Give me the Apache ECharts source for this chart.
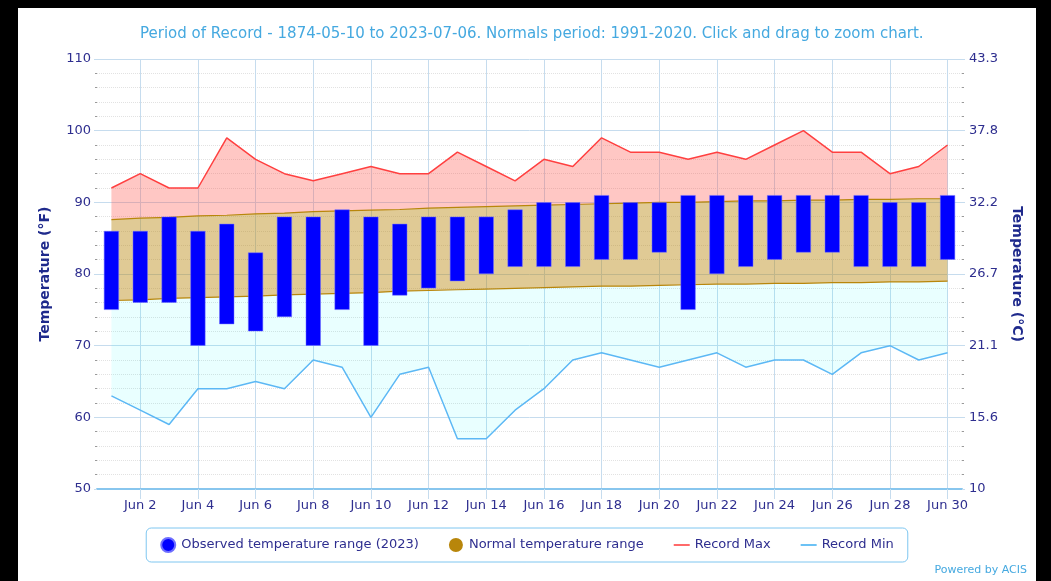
<!DOCTYPE html>
<html>
<head>
<meta charset="utf-8">
<title>Daily temperatures June 2023</title>
<script src="https://cdn.jsdelivr.net/npm/echarts@6/dist/echarts.min.js"></script>
<style>
  html, body { margin: 0; padding: 0; background: #000; }
  #chart {
    position: absolute;
    left: 18px;
    top: 8px;
    width: 1018px;
    height: 573px;
    background: #fff;
  }
</style>
</head>
<body>
<div id="chart"></div>
<script>
// June 2023, days of month
const days = [1, 2, 3, 4, 5, 6, 7, 8, 9, 10, 11, 12, 13, 14, 15,
  16, 17, 18, 19, 20, 21, 22, 23, 24, 25, 26, 27, 28, 29, 30];
const tickDays = [2, 4, 6, 8, 10, 12, 14, 16, 18, 20, 22, 24, 26, 28, 30];

// observed 2023 (°F)
const obsHigh = [86, 86, 88, 86, 87, 83, 88, 88, 89, 88, 87, 88, 88, 88, 89,
  90, 90, 91, 90, 90, 91, 91, 91, 91, 91, 91, 91, 90, 90, 91];
const obsLow = [75, 76, 76, 70, 73, 72, 74, 70, 75, 70, 77, 78, 79, 80, 81,
  81, 81, 82, 82, 83, 75, 80, 81, 82, 83, 83, 81, 81, 81, 82];

// normals 1991-2020 (°F)
const normHigh = [87.6, 87.8, 87.9, 88.1, 88.2, 88.4, 88.5, 88.7, 88.8, 88.9,
  89.0, 89.2, 89.3, 89.4, 89.5, 89.6, 89.7, 89.8, 89.9, 90.0,
  90.0, 90.1, 90.2, 90.2, 90.3, 90.3, 90.4, 90.4, 90.5, 90.5];
const normLow = [76.3, 76.4, 76.6, 76.7, 76.8, 76.9, 77.1, 77.2, 77.3, 77.4,
  77.6, 77.7, 77.8, 77.9, 78.0, 78.1, 78.2, 78.3, 78.3, 78.4,
  78.5, 78.6, 78.6, 78.7, 78.7, 78.8, 78.8, 78.9, 78.9, 79.0];

// records (°F)
const recMax = [92, 94, 92, 92, 99, 96, 94, 93, 94, 95, 94, 94, 97, 95, 93,
  96, 95, 99, 97, 97, 96, 97, 96, 98, 100, 97, 97, 94, 95, 98];
const recMin = [63, 61, 59, 64, 64, 65, 64, 68, 67, 60, 66, 67, 57, 57, 61,
  64, 68, 69, 68, 67, 68, 69, 67, 68, 68, 66, 69, 70, 68, 69];

const labelColor = "#2e2e8f";
const gridColor = "#c6dcee";
const lineIcon = "path://M0,0h16v2h-16z";

// value first, day second, so stacking happens on the temperature
function pairs(vals) {
  return days.map(function (d, i) { return [vals[i], d]; });
}
function diff(a, b) {
  return a.map(function (v, i) { return +(v - b[i]).toFixed(2); });
}
const enc = { x: 1, y: 0 };

const chart = echarts.init(document.getElementById("chart"));
chart.setOption({
  animation: false,
  textStyle: { fontFamily: "DejaVu Sans" },
  title: [
    {
      text: "Period of Record - 1874-05-10 to 2023-07-06. Normals period: 1991-2020. Click and drag to zoom chart.",
      left: 117,
      top: 14,
      textStyle: { fontSize: 15, fontWeight: "normal", color: "#45a9e0" }
    },
    {
      text: "Powered by ACIS",
      right: 4,
      bottom: 0,
      textStyle: { fontSize: 11, fontWeight: "normal", color: "#45a9e0" }
    }
  ],
  grid: { left: 79, right: 74, top: 51, bottom: 92 },
  legend: {
    left: "center",
    top: 520,
    padding: [9, 14],
    itemGap: 30,
    itemWidth: 16,
    itemHeight: 14,
    borderColor: "#7ec6f0",
    borderWidth: 1,
    borderRadius: 5,
    textStyle: { fontSize: 13, color: labelColor },
    data: [
      { name: "Observed temperature range (2023)", icon: "circle", itemStyle: { color: "#0000ff" } },
      { name: "Normal temperature range", icon: "circle", itemStyle: { color: "#b8860b" } },
      { name: "Record Max", icon: lineIcon, itemStyle: { color: "#ff6a6a" } },
      { name: "Record Min", icon: lineIcon, itemStyle: { color: "#6cc2f5" } }
    ]
  },
  xAxis: {
    type: "value",
    min: 0.5,
    max: 30.5,
    axisLine: { show: true, lineStyle: { color: "#88c6ee", width: 2 } },
    axisTick: {
      show: true,
      customValues: tickDays,
      length: 10,
      lineStyle: { color: gridColor }
    },
    axisLabel: {
      customValues: tickDays,
      margin: 10,
      fontSize: 13,
      color: labelColor,
      formatter: function (v) { return "Jun " + v; }
    },
    splitLine: { show: true, lineStyle: { color: gridColor } }
  },
  yAxis: [
    {
      type: "value",
      min: 50,
      max: 110,
      interval: 10,
      name: "Temperature (°F)",
      nameLocation: "middle",
      nameRotate: 90,
      nameGap: 45,
      nameTextStyle: { fontSize: 14, fontWeight: "bold", color: "#1f2a8c" },
      axisLine: { show: false },
      axisTick: { show: true, length: 3, lineStyle: { color: gridColor } },
      minorTick: { show: true, splitNumber: 5, length: 2, lineStyle: { color: "#999" } },
      axisLabel: { margin: 6, fontSize: 13, color: labelColor },
      splitLine: { show: true, lineStyle: { color: gridColor } },
      minorSplitLine: { show: true, lineStyle: { color: "#e2e2e2", type: "dotted" } }
    },
    {
      type: "value",
      position: "right",
      min: 50,
      max: 110,
      interval: 10,
      name: "Temperature (°C)",
      nameLocation: "middle",
      nameRotate: -90,
      nameGap: 48,
      nameTextStyle: { fontSize: 14, fontWeight: "bold", color: "#1f2a8c" },
      axisLine: { show: false },
      axisTick: { show: true, length: 3, lineStyle: { color: gridColor } },
      minorTick: { show: true, splitNumber: 5, length: 2, lineStyle: { color: "#999" } },
      axisLabel: {
        margin: 7,
        fontSize: 13,
        color: labelColor,
        formatter: function (v) {
          const c = (v - 32) * 5 / 9;
          return String(+c.toFixed(1));
        }
      },
      splitLine: { show: false }
    }
  ],
  series: [
    {
      name: "Record Min",
      type: "line",
      stack: "band",
      symbol: "none",
      encode: enc,
      data: pairs(recMin),
      itemStyle: { color: "#5cb8f5" },
      lineStyle: { color: "#5cb8f5", width: 1.5 }
    },
    {
      name: "belowNormal",
      type: "line",
      stack: "band",
      symbol: "none",
      silent: true,
      encode: enc,
      data: pairs(diff(normLow, recMin)),
      lineStyle: { color: "#b8860b", width: 1.2 },
      areaStyle: { color: "rgba(0,255,255,0.12)" }
    },
    {
      name: "Normal temperature range",
      type: "line",
      stack: "band",
      symbol: "none",
      encode: enc,
      data: pairs(diff(normHigh, normLow)),
      itemStyle: { color: "#b8860b" },
      lineStyle: { color: "#b8860b", width: 1.2 },
      areaStyle: { color: "rgba(184,134,11,0.62)" }
    },
    {
      name: "Record Max",
      type: "line",
      stack: "band",
      symbol: "none",
      encode: enc,
      data: pairs(diff(recMax, normHigh)),
      itemStyle: { color: "#ff5050" },
      lineStyle: { color: "#ff4040", width: 1.5 },
      areaStyle: { color: "rgba(255,80,70,0.45)" }
    },
    {
      name: "obsBase",
      type: "bar",
      stack: "obs",
      barWidth: 15,
      silent: true,
      z: 5,
      encode: enc,
      data: pairs(obsLow),
      itemStyle: { color: "transparent" }
    },
    {
      name: "Observed temperature range (2023)",
      type: "bar",
      stack: "obs",
      barWidth: 15,
      z: 5,
      encode: enc,
      data: pairs(diff(obsHigh, obsLow)),
      itemStyle: { color: "#0000ff", borderColor: "#6f6fff", borderWidth: 0.5 }
    }
  ]
});
</script>
</body>
</html>
